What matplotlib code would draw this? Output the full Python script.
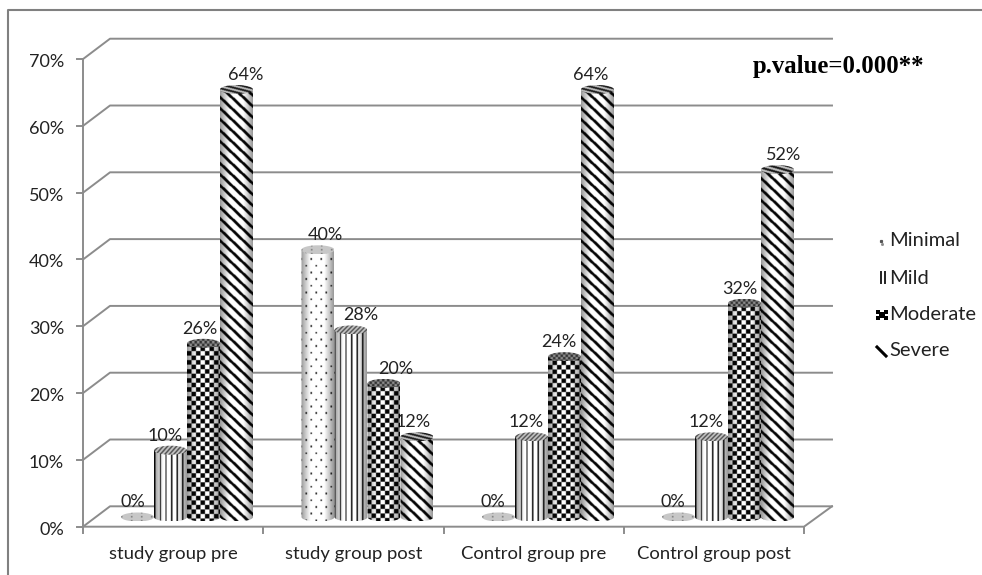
"""Pseudo 3D cylinder chart of severity by group."""

import numpy as np
import matplotlib
matplotlib.use("Agg")
import matplotlib.pyplot as plt
from matplotlib.patches import Polygon

groups = ["study group pre", "study group post", "Control group pre", "Control group post"]
severity = ["Minimal", "Mild", "Moderate", "Severe"]
minimal = [0, 40, 0, 0]
mild = [10, 28, 12, 12]
moderate = [26, 20, 24, 32]
severe = [64, 12, 64, 52]
y_ticks = [0, 10, 20, 30, 40, 50, 60, 70]

plt.rcParams["font.family"] = ["Lato", "DejaVu Sans"]

PX = 6.68  # pixels for one percent
BASE = 517  # pixel row of 0% in the bar plane
GRID = "#8c8c8c"
TXT = "#222222"
BAR_W = 33
GROUP_X = [187, 367.5, 548, 728]
TICK_X = [83, 263, 444, 624, 804]
FRONT = -1.45  # front wall offset in percent
BACK = 1.6  # back wall offset in percent

# label shift from the bar centre, one row per group
LABEL_DX = [
    [-5, -5, -4, 9.5],
    [7, 9.5, 11.5, -4],
    [-6, -5, -6, -6.5],
    [-6, -5, -5, 6],
]


def py(p):
    return (BASE - p) / PX


def texture(kind, w, h):
    # texture at 2 samples per pixel, greyscale 0-1
    yy, xx = np.mgrid[0:h * 2, 0:w * 2] / 2.0
    if kind == "Minimal":
        row = np.floor(yy / 6.7)
        u = (xx + row * 5) % 10
        v = yy % 6.7
        t = np.where((np.abs(u - 5) < 0.9) & (np.abs(v - 3) < 0.9), 0.1, 1.0)
    elif kind == "Mild":
        t = np.where((xx % 5.6) < 1.3, 0.05, 1.0)
    elif kind == "Moderate":
        t = np.where((np.floor(xx / 4.5) + np.floor(yy / 4.5)) % 2 == 0, 0.02, 1.0)
    else:
        t = np.where(((0.95 * xx - yy) % 11) < 3.8, 0.02, 1.0)
    return t


def cap_texture(kind, w, h):
    yy, xx = np.mgrid[0:h * 2, 0:w * 2] / 2.0
    if kind == "Minimal":
        t = np.where((xx % 10 < 1.2) & (yy % 4 < 1.2), 0.45, 0.78)
    elif kind == "Mild":
        t = np.where(((xx + yy) % 4.5) < 1.8, 0.3, 0.78)
    elif kind == "Moderate":
        t = np.where((np.floor(xx / 2.5) + np.floor(yy / 2.5)) % 2 == 0, 0.2, 0.55)
    else:
        t = np.where(((0.25 * xx - yy) % 4) < 1.9, 0.1, 0.75)
    return t


def shade(w, h):
    x = np.linspace(0, 1, w * 2)
    s = np.clip(0.6 + 1.4 * x, 0, 1) * np.clip(0.6 + 1.4 * (1 - x), 0, 1)
    return np.tile(s, (h * 2, 1))


def cylinder(ax, left, value, kind, z):
    right = left + BAR_W
    cx = left + BAR_W / 2
    rx = BAR_W / 2
    ry = 4.5 / PX
    th = np.linspace(0, np.pi, 40)
    if value > 0:
        low = np.column_stack([cx - rx * np.cos(th), -ry * np.sin(th)])
        pts = np.vstack([[[left, value]], low, [[right, value]]])
        body = Polygon(pts, closed=True, facecolor="none", edgecolor="none", zorder=z)
        ax.add_patch(body)
        h = int(round((value + ry) * PX))
        img = texture(kind, BAR_W, h) * shade(BAR_W, h)
        im = ax.imshow(img, cmap="gray", vmin=0, vmax=1, aspect="auto", zorder=z,
                       interpolation="bilinear", extent=(left, right, -ry, value))
        im.set_clip_path(body)
    # top cap, darker than the body
    th = np.linspace(0, 2 * np.pi, 60)
    cap = Polygon(np.column_stack([cx + rx * np.cos(th), value + ry * np.sin(th)]),
                  closed=True, facecolor="none", edgecolor="none", zorder=z + 0.5)
    ax.add_patch(cap)
    im = ax.imshow(cap_texture(kind, BAR_W, 9), cmap="gray", vmin=0, vmax=1, aspect="auto",
                   zorder=z + 0.5, interpolation="bilinear",
                   extent=(left, right, value - ry, value + ry))
    im.set_clip_path(cap)


fig = plt.figure(figsize=(9.82, 5.75), dpi=100)
ax = fig.add_axes([0, 0, 1, 1])
ax.axis("off")

# outer frame
ax.plot([8, 8, 982], [py(575), py(10), py(10)], color="#808080", lw=1.5, zorder=1)

# back wall gridlines with the oblique stub
for t in y_ticks:
    ax.plot([83, 110, 832], [t + FRONT, t + BACK, t + BACK], color=GRID, lw=1.4, zorder=1)
    ax.plot([77, 83], [t + FRONT, t + FRONT], color=GRID, lw=1.4, zorder=1)
    ax.text(64, t - 1.9, f"{t}%", ha="right", va="center", fontsize=13, color=TXT)

ax.plot([83, 83], [FRONT, 70 + FRONT], color=GRID, lw=1.4, zorder=1)
ax.plot([83, 804, 832], [FRONT, FRONT, BACK], color=GRID, lw=1.4, zorder=1)
for x in TICK_X:
    ax.plot([x, x], [FRONT, py(533)], color=GRID, lw=1.4, zorder=1)

series = [minimal, mild, moderate, severe]
z = 2
for g, cx in enumerate(GROUP_X):
    mid = (TICK_X[g] + TICK_X[g + 1]) / 2
    ax.text(mid, py(554), groups[g], ha="center", va="center", fontsize=13.3, color=TXT)
    for s, vals in enumerate(series):
        left = cx - 2 * BAR_W + s * BAR_W
        v = vals[g]
        # this label is partly hidden by the moderate bar next to it
        label_z = 1.5 if (g, s) == (1, 3) else 50
        ax.text(left + BAR_W / 2 + LABEL_DX[g][s], v + 2.2, f"{v}%", ha="center", va="center",
                fontsize=13, color=TXT, zorder=label_z)
        cylinder(ax, left, v, severity[s], z)
        z += 1

ax.text(753, py(66), "p.value=0.000**", ha="left", va="center", fontsize=17.8,
        fontweight="bold", family="Liberation Serif", color="black", zorder=50)

# legend keys
leg_y = [241, 278, 314, 351]
for name, row in zip(severity, leg_y):
    ax.text(889, py(row), name, ha="left", va="center", fontsize=14.5, color=TXT)

ax.plot([881], [py(241)], ls="none", marker="s", ms=1.3, color="#555555")
ax.plot([882], [py(244)], ls="none", marker="s", ms=1.0, color="#888888")
for x in (881, 885.5):
    ax.plot([x, x], [py(272), py(283)], color="#222222", lw=1.4)
for (x0, y0) in [(876, 310), (884, 316), (876, 316), (884, 310)]:
    ax.fill([x0, x0 + 4, x0 + 4, x0], [py(y0), py(y0), py(y0 + 4), py(y0 + 4)], color="black", lw=0)
ax.fill([879, 885, 885, 879], [py(312), py(312), py(318), py(318)], color="black", lw=0)
ax.plot([877, 886], [py(347), py(356)], color="black", lw=2.2)

ax.set_xlim(0, 982)
ax.set_ylim(py(575), py(0))

plt.savefig("out.png", dpi=100)
plt.close()
